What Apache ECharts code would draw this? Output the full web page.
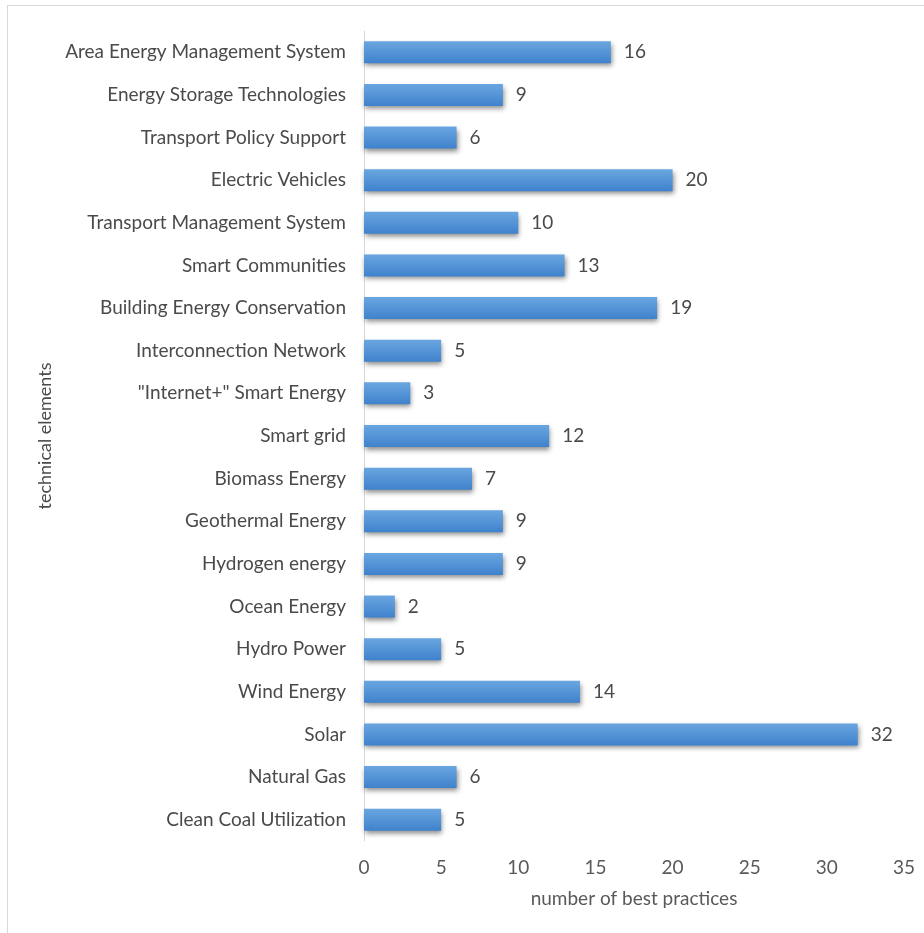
<!DOCTYPE html>
<html>
<head>
<meta charset="utf-8">
<script src="https://cdn.jsdelivr.net/npm/echarts@6/dist/echarts.min.js"></script>
<style>
html,body{margin:0;padding:0;background:#fff;}
#frame{position:absolute;left:7px;top:5px;width:930px;height:940px;border:1.5px solid #d9d9d9;box-sizing:border-box;}
#chart{position:absolute;left:0;top:0;width:924px;height:933px;}
</style>
</head>
<body>
<div id="frame"></div>
<div id="chart"></div>
<script>
const categories = [
  "Area Energy Management System",
  "Energy Storage Technologies",
  "Transport Policy Support",
  "Electric Vehicles",
  "Transport Management System",
  "Smart Communities",
  "Building Energy Conservation",
  "Interconnection Network",
  "\"Internet+\" Smart Energy",
  "Smart grid",
  "Biomass Energy",
  "Geothermal Energy",
  "Hydrogen energy",
  "Ocean Energy",
  "Hydro Power",
  "Wind Energy",
  "Solar",
  "Natural Gas",
  "Clean Coal Utilization"
];
const values = [16, 9, 6, 20, 10, 13, 19, 5, 3, 12, 7, 9, 9, 2, 5, 14, 32, 6, 5];
const xTicks = [0, 5, 10, 15, 20, 25, 30, 35];

const chart = echarts.init(document.getElementById('chart'));
const font = 'Lato';
chart.setOption({
  animation: false,
  grid: { left: 364, right: 20, top: 31, bottom: 92, containLabel: false },
  xAxis: {
    type: 'value', min: xTicks[0], max: xTicks[xTicks.length-1], interval: 5,
    name: 'number of best practices', nameLocation: 'middle', nameGap: 48,
    nameTextStyle: { color: '#595959', fontSize: 19, fontFamily: font },
    axisLine: { show: false }, axisTick: { show: false }, splitLine: { show: false },
    axisLabel: { color: '#595959', fontSize: 19, fontFamily: font, margin: 17 }
  },
  yAxis: {
    type: 'category', data: categories, inverse: true,
    name: 'technical elements', nameLocation: 'middle', nameGap: 305,
    nameTextStyle: { color: '#4a4a4a', fontSize: 18, fontFamily: font },
    axisLine: { show: true, lineStyle: { color: '#d9d9d9', width: 1 } },
    axisTick: { show: false },
    axisLabel: { color: '#4a4a4a', fontSize: 19, fontFamily: font, margin: 18 }
  },
  series: [{
    type: 'bar', data: values, barWidth: 22,
    itemStyle: {
      color: new echarts.graphic.LinearGradient(0, 0, 0, 1, [
        { offset: 0, color: '#6aa6e0' },
        { offset: 1, color: '#3f82cc' }
      ]),
      shadowColor: 'rgba(0,0,0,0.45)', shadowBlur: 5, shadowOffsetX: 1, shadowOffsetY: 3
    },
    label: { show: true, position: 'right', distance: 13, color: '#4a4a4a', fontSize: 19, fontFamily: font }
  }]
});
</script>
</body>
</html>
